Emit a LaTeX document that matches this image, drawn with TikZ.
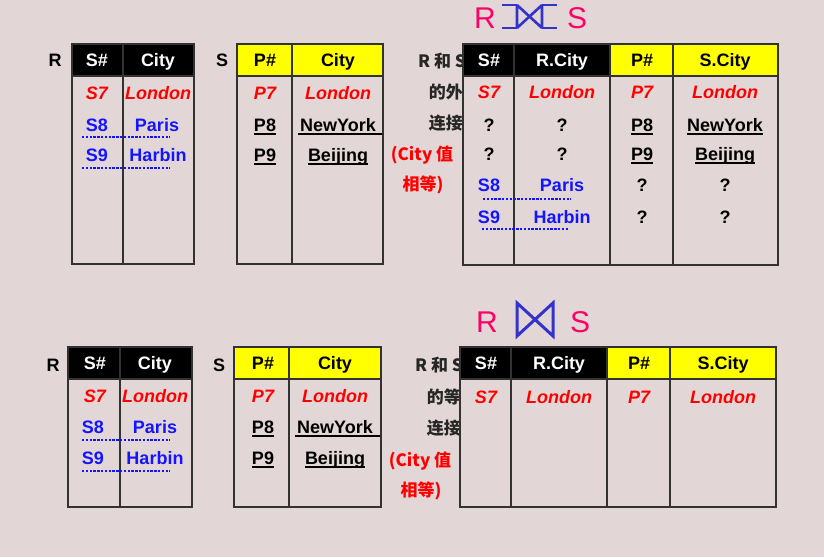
\documentclass[tikz,border=0pt]{standalone}
\usepackage{fontspec}
\setmainfont{Liberation Sans}
\newfontfamily\cjk{Noto Sans CJK SC}
\definecolor{bg}{RGB}{226,215,214}
\definecolor{tbl}{RGB}{50,50,50}
\definecolor{redc}{RGB}{255,0,0}
\definecolor{bluec}{RGB}{20,20,255}
\definecolor{titlec}{RGB}{255,0,102}
\definecolor{joinc}{RGB}{51,51,204}
\definecolor{hdryel}{RGB}{255,255,0}
\tikzset{
  tline/.style={draw=tbl,line width=1.8pt},
  cell/.style={inner sep=0pt,text height=12pt,text depth=0pt,font=\fontsize{18}{20}\selectfont\bfseries},
  hw/.style={cell,text=white},
  hb/.style={cell,text=black},
  cred/.style={cell,text=redc,font=\fontsize{18}{20}\selectfont\bfseries\itshape},
  cblue/.style={cell,text=bluec},
  cblk/.style={cell,text=black},
  lbl/.style={inner sep=0pt,text height=12pt,text depth=0pt,font=\cjk\fontsize{17}{20}\selectfont\bfseries,text=black!85},
  lblred/.style={lbl,text=redc},
  dotl/.style={draw=bluec,line width=2.8pt,dash pattern=on 2.4pt off 1.4pt},
  uline/.style={draw=black,line width=1.8pt},
  ttl/.style={inner sep=0pt,text height=21pt,text depth=0pt,font=\fontsize{30}{32}\selectfont,text=titlec},
  joinl/.style={draw=joinc,line width=2.6pt}
}
\begin{document}
\begin{tikzpicture}[x=1pt,y=-1pt]
\useasboundingbox[fill=bg] (0,0) rectangle (824,557);

% ================= TOP SECTION =================
\node[cblk] (rlab1) at (55,60) {R};
\node[cblk] (slab1) at (222,60) {S};

% table R (top)
\fill[black] (72,44) rectangle (194,76);
\draw[tline] (72,44) rectangle (194,264);
\draw[tline] (72,76) -- (194,76);
\draw[tline] (123,44) -- (123,264);
\node[hw] (ra1) at (97,60) {S\#};
\node[hw] (ra2) at (158,60) {City};
\node[cred] (ra3) at (97,93) {S7};
\node[cred] (ra4) at (158,93) {London};
\node[cblue] (ra5) at (97,125) {S8};
\node[cblue] (ra6) at (157,125) {Paris};
\node[cblue] (ra7) at (97,155) {S9};
\node[cblue] (ra8) at (158,155) {Harbin};
\coordinate (rd1a) at (82,137); \coordinate (rd1b) at (170,137);
\coordinate (rd2a) at (82,168); \coordinate (rd2b) at (170,168);
\draw[dotl] (rd1a) -- (rd1b);
\draw[dotl] (rd2a) -- (rd2b);

% table S (top)
\fill[hdryel] (237,44) rectangle (383,76);
\draw[tline] (237,44) rectangle (383,264);
\draw[tline] (237,76) -- (383,76);
\draw[tline] (292,44) -- (292,264);
\node[hb] (sa1) at (265,60) {P\#};
\node[hb] (sa2) at (338,60) {City};
\node[cred] (sa3) at (265,93) {P7};
\node[cred] (sa4) at (338,93) {London};
\node[cblk] (sa5) at (265,125) {P8};
\node[cblk] (sa6) at (338,125) {NewYork};
\node[cblk] (sa7) at (265,155) {P9};
\node[cblk] (sa8) at (338,155) {Beijing};
\coordinate (sar) at (382,0);
\draw[uline] ([yshift=-2.5pt]sa5.south west) -- ([yshift=-2.5pt]sa5.south east);
\draw[uline] ([yshift=-2.5pt]sa7.south west) -- ([yshift=-2.5pt]sa7.south east);
\draw[uline] ([yshift=-2.5pt]sa8.south west) -- ([yshift=-2.5pt]sa8.south east);
\path ([yshift=-2.5pt,xshift=-2pt]sa6.south west) coordinate (nya);
\draw[uline] (nya) -- (nya -| sar);

% side labels (outer join)
\node[lbl,anchor=east] (ta1) at (466,61) {R 和 S};
\node[lbl,anchor=east] (ta2) at (463,92) {的外};
\node[lbl,anchor=east] (ta3) at (463,123) {连接};
\node[lblred] (ta4) at (422,154) {(City 值};
\node[lblred] (ta5) at (423,184) {相等)};

% result table (outer join)
\fill[black] (463,44) rectangle (610,76);
\fill[hdryel] (610,44) rectangle (778,76);
\draw[tline] (463,44) rectangle (778,265);
\draw[tline] (463,76) -- (778,76);
\draw[tline] (514,44) -- (514,265);
\draw[tline] (610,44) -- (610,265);
\draw[tline] (673,44) -- (673,265);
\node[hw] (ua1) at (489,60) {S\#};
\node[hw] (ua2) at (562,60) {R.City};
\node[hb] (ua3) at (642,60) {P\#};
\node[hb] (ua4) at (725,60) {S.City};
\node[cred] (ub1) at (489,92) {S7};
\node[cred] (ub2) at (562,92) {London};
\node[cred] (ub3) at (642,92) {P7};
\node[cred] (ub4) at (725,92) {London};
\node[cblk] (uc1) at (489,125) {?};
\node[cblk] (uc2) at (562,125) {?};
\node[cblk] (uc3) at (642,125) {P8};
\node[cblk] (uc4) at (725,125) {NewYork};
\node[cblk] (ud1) at (489,154) {?};
\node[cblk] (ud2) at (562,154) {?};
\node[cblk] (ud3) at (642,154) {P9};
\node[cblk] (ud4) at (725,154) {Beijing};
\node[cblue] (ue1) at (489,185) {S8};
\node[cblue] (ue2) at (562,185) {Paris};
\node[cblk] (ue3) at (642,185) {?};
\node[cblk] (ue4) at (725,185) {?};
\node[cblue] (uf1) at (489,217) {S9};
\node[cblue] (uf2) at (562,217) {Harbin};
\node[cblk] (uf3) at (642,217) {?};
\node[cblk] (uf4) at (725,217) {?};
\foreach \n in {uc3,uc4,ud3,ud4}
  \draw[uline] ([yshift=-2.5pt]\n.south west) -- ([yshift=-2.5pt]\n.south east);
\coordinate (ud1a) at (483,199); \coordinate (ud1b) at (571,199);
\coordinate (ud2a) at (482,229); \coordinate (ud2b) at (569,229);
\draw[dotl] (ud1a) -- (ud1b);
\draw[dotl] (ud2a) -- (ud2b);

% title R (full outer join) S
\node[ttl] (tr1) at (485,18) {R};
\node[ttl] (ts1) at (577,18) {S};
\coordinate (oj1) at (517,5); \coordinate (oj2) at (542,5);
\coordinate (oj3) at (517,28); \coordinate (oj4) at (542,28);
\draw[joinl] (oj1) -- (oj3) (oj2) -- (oj4) (oj1) -- (oj4) (oj3) -- (oj2);
\draw[joinl] (oj1) -- ++(-15,0) (oj3) -- ++(-15,0) (oj2) -- ++(15,0) (oj4) -- ++(15,0);

% ================= BOTTOM SECTION =================
\node[cblk] (rlab2) at (53,365) {R};
\node[cblk] (slab2) at (219,365) {S};

% table R (bottom)
\fill[black] (68,347) rectangle (192,379);
\draw[tline] (68,347) rectangle (192,507);
\draw[tline] (68,379) -- (192,379);
\draw[tline] (120,347) -- (120,507);
\node[hw] (rb1) at (95,363) {S\#};
\node[hw] (rb2) at (155,363) {City};
\node[cred] (rb3) at (95,396) {S7};
\node[cred] (rb4) at (155,396) {London};
\node[cblue] (rb5) at (93,427) {S8};
\node[cblue] (rb6) at (155,427) {Paris};
\node[cblue] (rb7) at (93,458) {S9};
\node[cblue] (rb8) at (155,458) {Harbin};
\coordinate (rbd1a) at (82,440); \coordinate (rbd1b) at (170,440);
\coordinate (rbd2a) at (82,471); \coordinate (rbd2b) at (170,471);
\draw[dotl] (rbd1a) -- (rbd1b);
\draw[dotl] (rbd2a) -- (rbd2b);

% table S (bottom)
\fill[hdryel] (234,347) rectangle (381,379);
\draw[tline] (234,347) rectangle (381,507);
\draw[tline] (234,379) -- (381,379);
\draw[tline] (289,347) -- (289,507);
\node[hb] (sb1) at (263,363) {P\#};
\node[hb] (sb2) at (335,363) {City};
\node[cred] (sb3) at (263,396) {P7};
\node[cred] (sb4) at (335,396) {London};
\node[cblk] (sb5) at (263,427) {P8};
\node[cblk] (sb6) at (335,427) {NewYork};
\node[cblk] (sb7) at (263,458) {P9};
\node[cblk] (sb8) at (335,458) {Beijing};
\coordinate (sbr) at (380,0);
\draw[uline] ([yshift=-2.5pt]sb5.south west) -- ([yshift=-2.5pt]sb5.south east);
\draw[uline] ([yshift=-2.5pt]sb7.south west) -- ([yshift=-2.5pt]sb7.south east);
\draw[uline] ([yshift=-2.5pt]sb8.south west) -- ([yshift=-2.5pt]sb8.south east);
\path ([yshift=-2.5pt,xshift=-2pt]sb6.south west) coordinate (nyb);
\draw[uline] (nyb) -- (nyb -| sbr);

% side labels (equi-join)
\node[lbl,anchor=east] (tb1) at (463,365) {R 和 S};
\node[lbl,anchor=east] (tb2) at (461,397) {的等};
\node[lbl,anchor=east] (tb3) at (461,428) {连接};
\node[lblred] (tb4) at (420,460) {(City 值};
\node[lblred] (tb5) at (421,490) {相等)};

% result table (equi-join)
\fill[black] (460,347) rectangle (607,379);
\fill[hdryel] (607,347) rectangle (776,379);
\draw[tline] (460,347) rectangle (776,507);
\draw[tline] (460,379) -- (776,379);
\draw[tline] (511,347) -- (511,507);
\draw[tline] (607,347) -- (607,507);
\draw[tline] (670,347) -- (670,507);
\node[hw] (va1) at (486,363) {S\#};
\node[hw] (va2) at (559,363) {R.City};
\node[hb] (va3) at (639,363) {P\#};
\node[hb] (va4) at (723,363) {S.City};
\node[cred] (vb1) at (486,397) {S7};
\node[cred] (vb2) at (559,397) {London};
\node[cred] (vb3) at (639,397) {P7};
\node[cred] (vb4) at (723,397) {London};

% title R (join) S
\node[ttl] (tr2) at (487,322) {R};
\node[ttl] (ts2) at (580,322) {S};
\coordinate (jn1) at (517,303); \coordinate (jn2) at (553,303);
\coordinate (jn3) at (517,336); \coordinate (jn4) at (553,336);
\draw[joinl,line width=3pt,line join=miter] (jn1) -- (jn3) -- (jn2) -- (jn4) -- cycle;
\end{tikzpicture}
\end{document}
